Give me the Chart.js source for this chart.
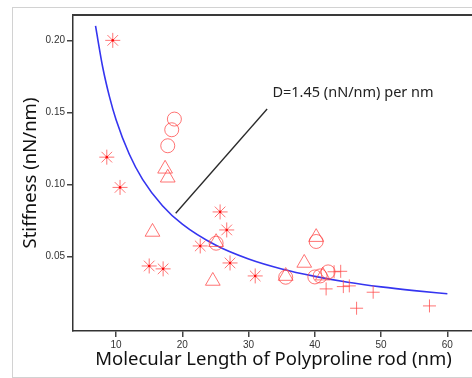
<!DOCTYPE html>
<html><head><meta charset="utf-8">
<script src="https://cdn.jsdelivr.net/npm/chart.js@4"></script>
<style>
html,body{margin:0;padding:0;background:#fff;overflow:hidden;width:472px;height:378px;}
#wrap{position:absolute;left:0;top:0;width:490px;height:378px;}
#frame{position:absolute;left:12px;top:7px;width:600px;height:369px;border:1px solid #d2d2d2;pointer-events:none;}
</style></head><body>
<div id="wrap"><canvas id="c" width="490" height="378"></canvas></div>
<div id="frame"></div>
<script>
// ---- data ----
const starX = [9.5, 8.6, 10.6, 15.0, 17.1, 22.7, 25.7, 26.7, 27.2, 31.0];
const starY = [0.200, 0.119, 0.098, 0.0435, 0.0415, 0.0574, 0.081, 0.0685, 0.0456, 0.0366];

const circleX = [18.8, 18.4, 17.8, 25.1, 35.6, 40.2, 40.0, 40.8, 42.0];
const circleY = [0.1454, 0.138, 0.1269, 0.0593, 0.0357, 0.0605, 0.0359, 0.0366, 0.0394];

const triX = [15.5, 17.4, 17.8, 24.6, 25.1, 35.6, 38.4, 40.2, 41.2];
const triY = [0.0671, 0.1109, 0.1047, 0.0331, 0.0600, 0.0365, 0.0456, 0.0635, 0.0368];

const plusX = [42.9, 43.9, 41.7, 44.3, 45.2, 46.3, 48.8, 57.3];
const plusY = [0.0395, 0.0398, 0.0276, 0.0292, 0.0297, 0.0142, 0.0253, 0.0158];

const fitX = [6.9, 8, 9, 10, 12, 14, 17, 20, 25, 30, 35, 40, 45, 50, 55, 60];
const fitY = [0.210, 0.181, 0.161, 0.145, 0.121, 0.1036, 0.0853, 0.0725, 0.058, 0.0483, 0.0414, 0.0363, 0.0322, 0.029, 0.0264, 0.0242];

const leaderX = [19.0, 32.8];
const leaderY = [0.0801, 0.1524];

const xTicks = [10, 20, 30, 40, 50, 60];
const yTicks = [0.05, 0.10, 0.15, 0.20];

const annoText = 'D=1.45 (nN/nm) per nm';
const xTitle = 'Molecular Length of Polyproline rod (nm)';
const yTitle = 'Stiffness (nN/nm)';

// ---- build ----
const pts = (xs, ys) => xs.map((v, i) => ({x: v, y: ys[i]}));
const RED = 'rgba(255,70,70,0.75)';

const titlesPlugin = {
  id: 'titles',
  afterDraw(chart) {
    const {ctx, chartArea, scales} = chart;
    ctx.save();
    ctx.strokeStyle = '#3a3a3a';
    ctx.lineWidth = 2;
    ctx.beginPath();
    ctx.moveTo(chartArea.left - 1, chartArea.top);
    ctx.lineTo(chartArea.right + 20, chartArea.top);
    ctx.stroke();
    ctx.fillStyle = '#222';
    ctx.font = '14.5px "Noto Sans"';
    ctx.textAlign = 'left';
    ctx.textBaseline = 'middle';
    ctx.fillText(annoText, scales.x.getPixelForValue(33.6), scales.y.getPixelForValue(0.1635));
    ctx.fillStyle = '#111';
    ctx.font = '18.5px "Noto Sans"';
    ctx.textAlign = 'center';
    ctx.textBaseline = 'alphabetic';
    ctx.fillText(xTitle, 273.5, 365);
    ctx.translate(36, 173);
    ctx.rotate(-Math.PI / 2);
    ctx.fillText(yTitle, 0, 0);
    ctx.restore();
  }
};

new Chart(document.getElementById('c'), {
  type: 'scatter',
  data: {
    datasets: [
      {data: pts(starX, starY), pointStyle: 'circle', pointRadius: 1.3, backgroundColor: 'rgba(255,0,0,0.9)', borderWidth: 0},
      {data: pts(starX, starY), pointStyle: 'star', pointRadius: 7.5, borderColor: RED, borderWidth: 1, backgroundColor: 'transparent'},
      {data: pts(circleX, circleY), pointStyle: 'circle', pointRadius: 7, borderColor: RED, borderWidth: 1, backgroundColor: 'transparent'},
      {data: pts(triX, triY), pointStyle: 'triangle', pointRadius: 8.5, borderColor: RED, borderWidth: 1, backgroundColor: 'transparent'},
      {data: pts(plusX, plusY), pointStyle: 'cross', pointRadius: 6.5, borderColor: RED, borderWidth: 1, backgroundColor: 'transparent'},
      {data: pts(fitX, fitY), showLine: true, pointRadius: 0, borderColor: '#3535f0', borderWidth: 1.6, cubicInterpolationMode: 'monotone', fill: false},
      {data: pts(leaderX, leaderY), showLine: true, pointRadius: 0, borderColor: '#2a2a2a', borderWidth: 1.3, fill: false}
    ]
  },
  options: {
    responsive: false,
    animation: false,
    devicePixelRatio: 1,
    layout: {padding: {left: 0, top: 15, right: 9, bottom: 0}},
    plugins: {legend: {display: false}, tooltip: {enabled: false}},
    scales: {
      x: {
        type: 'linear', min: 3.5, max: 65,
        afterFit(s) { s.height = 47; },
        afterBuildTicks(s) { s.ticks = xTicks.map(v => ({value: v})); },
        grid: {drawOnChartArea: false, drawTicks: true, tickLength: 6, color: '#444', lineWidth: 1.5},
        border: {display: true, color: '#333', width: 1.5},
        ticks: {color: '#333', font: {family: 'Liberation Sans', size: 10}, padding: 2, maxRotation: 0}
      },
      y: {
        type: 'linear', min: -0.0016, max: 0.2176,
        afterFit(s) { s.width = 73; },
        afterBuildTicks(s) { s.ticks = yTicks.map(v => ({value: v})); },
        grid: {drawOnChartArea: false, drawTicks: true, tickLength: 6, color: '#444', lineWidth: 1.5},
        border: {display: true, color: '#333', width: 1.5},
        ticks: {color: '#333', font: {family: 'Liberation Sans', size: 10}, padding: 2, callback: v => v.toFixed(2)}
      }
    }
  },
  plugins: [titlesPlugin]
});
</script>
</body></html>
